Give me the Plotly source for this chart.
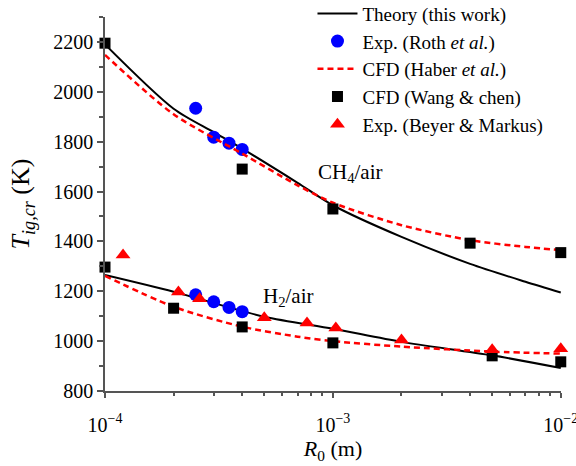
import plotly.graph_objects as go

# ---- data ----
# Theory (this work)
theory_ch4_x = [1e-4, 2e-4, 3e-4, 4e-4, 7e-4, 1e-3, 2e-3, 4e-3, 7e-3, 1e-2]
theory_ch4_y = [2190, 1932, 1838, 1772, 1635, 1545, 1418, 1310, 1238, 1195]
theory_h2_x = [1e-4, 2e-4, 5e-4, 1e-3, 2e-3, 5e-3, 1e-2]
theory_h2_y = [1265, 1198, 1098, 1050, 997, 943, 892]

# CFD (Haber et al.)
haber_ch4_x = [1e-4, 2e-4, 4e-4, 7e-4, 1e-3, 2e-3, 4e-3, 7e-3, 1e-2]
haber_ch4_y = [2148, 1910, 1752, 1625, 1555, 1465, 1405, 1378, 1365]
haber_h2_x = [1e-4, 2e-4, 4e-4, 7e-4, 1e-3, 2e-3, 5e-3, 1e-2]
haber_h2_y = [1262, 1138, 1058, 1018, 1000, 978, 958, 950]

# Exp. (Roth et al.)
roth_ch4_x = [2.5e-4, 3e-4, 3.5e-4, 4e-4]
roth_ch4_y = [1934, 1818, 1794, 1769]
roth_h2_x = [2.5e-4, 3e-4, 3.5e-4, 4e-4]
roth_h2_y = [1186, 1158, 1135, 1118]

# CFD (Wang & chen)
wang_ch4_x = [1e-4, 4e-4, 1e-3, 4e-3, 1e-2]
wang_ch4_y = [2195, 1690, 1530, 1393, 1355]
wang_h2_x = [1e-4, 2e-4, 4e-4, 1e-3, 5e-3, 1e-2]
wang_h2_y = [1297, 1132, 1057, 993, 941, 917]

# Exp. (Beyer & Markus)
beyer_h2_x = [1.2e-4, 2.1e-4, 2.6e-4, 5e-4, 7.7e-4, 1.03e-3, 2e-3, 5e-3, 1e-2]
beyer_h2_y = [1345, 1197, 1170, 1094, 1073, 1053, 1005, 965, 969]

x_tickvals = [1e-4, 1e-3, 1e-2]
x_ticktext = ["10<sup>\u22124</sup>", "10<sup>\u22123</sup>", "10<sup>\u22122</sup>"]
x_minor = [2e-4, 3e-4, 4e-4, 5e-4, 6e-4, 7e-4, 8e-4, 9e-4,
           2e-3, 3e-3, 4e-3, 5e-3, 6e-3, 7e-3, 8e-3, 9e-3]
y_tickvals = [800, 1000, 1200, 1400, 1600, 1800, 2000, 2200]

FONT = "Liberation Serif, Times New Roman, serif"
SM = 0.8

fig = go.Figure()

fig.add_trace(go.Scatter(x=theory_ch4_x, y=theory_ch4_y, mode="lines",
                         line=dict(color="black", width=2, shape="spline", smoothing=SM),
                         name="Theory (this work)", legendgroup="th"))
fig.add_trace(go.Scatter(x=theory_h2_x, y=theory_h2_y, mode="lines",
                         line=dict(color="black", width=2, shape="spline", smoothing=SM),
                         name="Theory (this work)", legendgroup="th", showlegend=False))
fig.add_trace(go.Scatter(x=roth_ch4_x, y=roth_ch4_y, mode="markers",
                         marker=dict(color="#0000ff", size=13, symbol="circle"),
                         name="Exp. (Roth <i>et al.</i>)", legendgroup="roth"))
fig.add_trace(go.Scatter(x=roth_h2_x, y=roth_h2_y, mode="markers",
                         marker=dict(color="#0000ff", size=13, symbol="circle"),
                         name="Exp. (Roth <i>et al.</i>)", legendgroup="roth", showlegend=False))
fig.add_trace(go.Scatter(x=haber_ch4_x, y=haber_ch4_y, mode="lines",
                         line=dict(color="#ff0000", width=2.5, dash="6px,4px", shape="spline", smoothing=SM),
                         name="CFD (Haber <i>et al.</i>)", legendgroup="haber"))
fig.add_trace(go.Scatter(x=haber_h2_x, y=haber_h2_y, mode="lines",
                         line=dict(color="#ff0000", width=2.5, dash="6px,4px", shape="spline", smoothing=SM),
                         name="CFD (Haber <i>et al.</i>)", legendgroup="haber", showlegend=False))
fig.add_trace(go.Scatter(x=wang_ch4_x, y=wang_ch4_y, mode="markers", cliponaxis=False,
                         marker=dict(color="black", size=11, symbol="square"),
                         name="CFD (Wang &amp; chen)", legendgroup="wang"))
fig.add_trace(go.Scatter(x=wang_h2_x, y=wang_h2_y, mode="markers", cliponaxis=False,
                         marker=dict(color="black", size=11, symbol="square"),
                         name="CFD (Wang &amp; chen)", legendgroup="wang", showlegend=False))
fig.add_trace(go.Scatter(x=beyer_h2_x, y=beyer_h2_y, mode="markers", cliponaxis=False,
                         marker=dict(color="#ff0000", size=13, symbol="triangle-up"),
                         name="Exp. (Beyer &amp; Markus)", legendgroup="beyer"))

fig.add_annotation(x=-3.075, y=1674, xref="x", yref="y", text="CH<sub>4</sub>/air",
                   showarrow=False, xanchor="left", yanchor="middle",
                   font=dict(family=FONT, size=21, color="black"))
fig.add_annotation(x=-3.315, y=1177, xref="x", yref="y", text="H<sub>2</sub>/air",
                   showarrow=False, xanchor="left", yanchor="middle",
                   font=dict(family=FONT, size=21, color="black"))

axis_color = "#555555"
fig.update_xaxes(type="log", range=[-4, -1.999], tickvals=x_tickvals, ticktext=x_ticktext,
                 ticks="outside", ticklen=5, tickwidth=1.5, tickcolor=axis_color,
                 ticklabelstandoff=10, ticklabeloverflow="allow", automargin=False,
                 showline=True, linecolor=axis_color, linewidth=1.5,
                 showgrid=False, zeroline=False,
                 minor=dict(tickvals=x_minor, ticks="outside", ticklen=3, tickwidth=1.5,
                            tickcolor=axis_color, showgrid=False),
                 tickfont=dict(family=FONT, size=20, color="black"),
                 title=dict(text="<i>R</i><sub>0</sub> (m)", standoff=6,
                            font=dict(family=FONT, size=22, color="black")))
fig.update_yaxes(range=[800, 2300], tickvals=y_tickvals,
                 ticks="outside", ticklen=6, tickwidth=1.5, tickcolor=axis_color,
                 automargin=False,
                 showline=True, linecolor=axis_color, linewidth=1.5,
                 showgrid=False, zeroline=False,
                 minor=dict(dtick=100, tick0=800, ticks="outside", ticklen=4, tickwidth=1.5,
                            tickcolor=axis_color, showgrid=False),
                 tickfont=dict(family=FONT, size=20, color="black"),
                 title=dict(text="<i>T</i><sub><i>ig,cr</i></sub> (K)", standoff=16,
                            font=dict(family=FONT, size=26, color="black")))

fig.update_layout(
    width=576, height=466,
    margin=dict(l=105, r=15, t=17, b=75, autoexpand=False),
    plot_bgcolor="white", paper_bgcolor="white",
    font=dict(family=FONT, size=16, color="black"),
    legend=dict(x=0.455, y=1.06, xanchor="left", yanchor="top",
                bgcolor="rgba(0,0,0,0)", borderwidth=0,
                font=dict(family=FONT, size=19, color="black"),
                itemwidth=40, tracegroupgap=0),
)

fig.write_html("out.html")
